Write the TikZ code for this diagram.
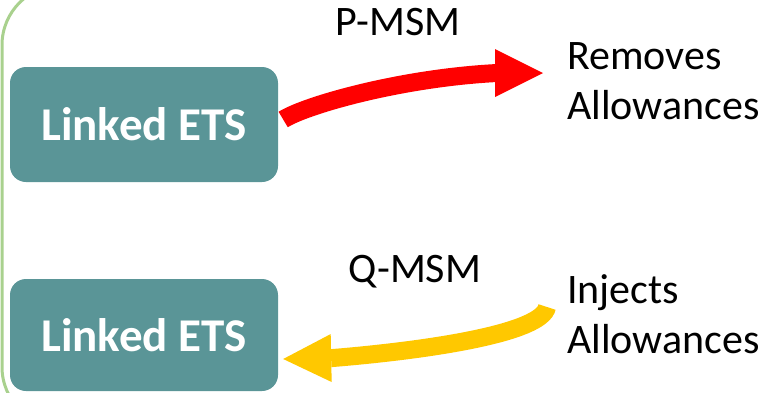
\documentclass[tikz,border=0pt]{standalone}
\usepackage{fontspec}
\setmainfont{Carlito}
\usepackage{tikz}
\usetikzlibrary{arrows.meta,calc}
\tikzset{
	ets/.style={fill=etsColor, rounded corners=16pt, minimum width=268pt, inner sep=0pt,
		text=white, font=\fontsize{47}{56}\selectfont\bfseries},
	lbl/.style={font=\fontsize{42}{50}\selectfont, inner sep=0pt, align=left},
	msm/.style={draw=#1, line width=18pt}
}
\definecolor{etsColor}{HTML}{5A9597}
\definecolor{frameColor}{HTML}{A9D18E}
\definecolor{pColor}{HTML}{FF0000}
\definecolor{qColor}{HTML}{FFC800}
\newcommand{\lets}{Linked ETS}

\begin{document}
\begin{tikzpicture}[x=1pt, y=-1pt, >={Triangle[length=48pt,width=48pt,line width=0pt]}]
				\useasboundingbox (0,0) rectangle (764,392);
				\clip (0,0) rectangle (764,392);
				\draw[frameColor, line width=3pt, rounded corners=60pt] (2,-15) rectangle (900,427);
				
				\node[ets, minimum height=115pt] (ets1) at (144, 124.5) {\lets};
				\node[ets, minimum height=112pt] (ets2) at (144, 335) {\lets};
				
				\node[lbl, anchor=base] (pmsm) at (398, 35) {P-MSM};
				\node[lbl, anchor=base] (qmsm) at (415, 282) {Q-MSM};
				% base is the last line here
				\node[lbl, anchor=base west] (rem) at (567, 119) {Removes\\Allowances};
				\node[lbl, anchor=base west] (inj) at (567, 353) {Injects\\Allowances};
				
				\coordinate (pBase) at (497, 73);
				\coordinate (pTip) at (543, 73);
				\coordinate (qTail) at (547, 307);
				\coordinate (qBase) at (333, 358);
				
				\draw[msm=pColor, ->] ([shift={(5,-5)}]ets1.east) .. controls +(22,-14) and +(-97,5) .. (pBase) -- (pTip);
				\draw[msm=qColor, ->] (qTail) .. controls +(-5,26) and +(97,-8) .. (qBase) -- ([shift={(5,24)}]ets2.east);
			\end{tikzpicture}
\end{document}
